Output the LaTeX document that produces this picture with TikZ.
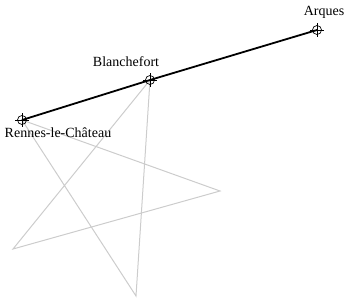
\documentclass[tikz,border=0pt]{standalone}
\usepackage{fontspec}
\setmainfont{Liberation Serif}

\tikzset{
  site/.style={circle,draw,inner sep=0pt,minimum size=9pt,line width=0.7pt},
  route/.style={line width=1.8pt},
  star/.style={draw=black!20,line width=1pt},
  place/.style={font=\fontsize{14}{16}\selectfont,inner sep=1pt}
}
\newcommand{\crosshair}[1]{%
  \draw[line width=0.7pt] ([yshift=2pt]#1.north)--([yshift=-2pt]#1.south);
  \draw[line width=0.7pt] ([xshift=-2pt]#1.west)--([xshift=2pt]#1.east);}

\begin{document}
\begin{tikzpicture}[x=1pt,y=-1pt]
  \useasboundingbox (0,0) rectangle (352,304);
  % star points
  \coordinate (R) at (22,120);
  \coordinate (B) at (150,80);
  \coordinate (E) at (220,191);
  \coordinate (W) at (13,249);
  \coordinate (S) at (136,296);
  \path[star] (R)--(E)--(W)--(B)--(S)--cycle;
  % sites
  \node[site] (rennes) at (R) {};
  \node[site] (blanche) at (B) {};
  \node[site] (arques) at (317,30) {};
  \draw[route] (rennes.center)--(blanche.center)--(arques.center);
  \crosshair{rennes}
  \crosshair{blanche}
  \crosshair{arques}
  % labels
  \node[place] at (58,133) {Rennes-le-Château};
  \node[place] at (126,62) {Blanchefort};
  \node[place] at (324,12) {Arques};
\end{tikzpicture}
\end{document}
